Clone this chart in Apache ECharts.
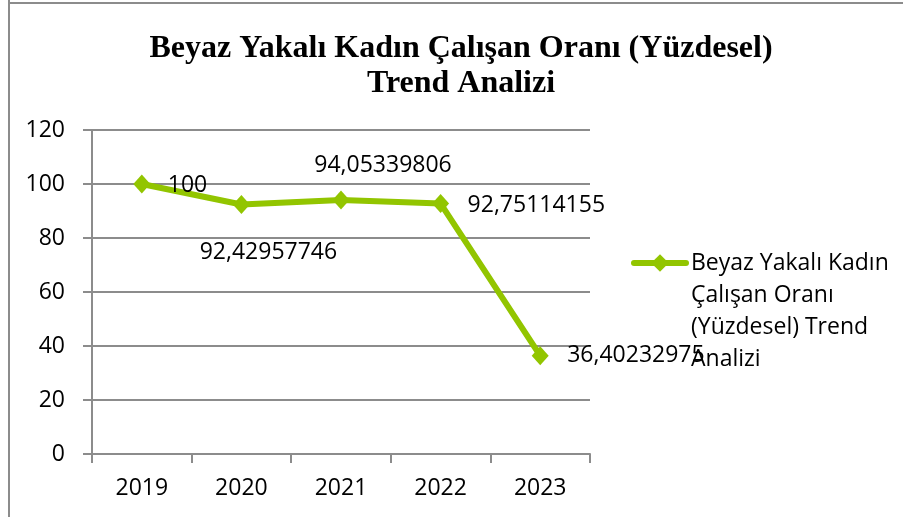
<!DOCTYPE html>
<html>
<head>
<meta charset="utf-8">
<script src="https://cdn.jsdelivr.net/npm/echarts@6/dist/echarts.min.js"></script>
<style>
  html, body { margin: 0; padding: 0; background: #ffffff; }
  #chart { width: 903px; height: 517px; }
</style>
</head>
<body>
<div id="chart"></div>
<script>
// Yearly white-collar female employee ratio, indexed to 2019 = 100
const years = ['2019', '2020', '2021', '2022', '2023'];
const ratios = [100, 92.42957746, 94.05339806, 92.75114155, 36.40232975];
const yTicks = [0, 20, 40, 60, 80, 100, 120];
const seriesName = 'Beyaz Yakalı Kadın Çalışan Oranı (Yüzdesel) Trend Analizi';
const legendLines = ['Beyaz Yakalı Kadın', 'Çalışan Oranı', '(Yüzdesel) Trend', 'Analizi'];

const GREEN = '#92c500';
const AXIS_GRAY = '#8c8c8c';
const LABEL_FONT = '"Open Sans", "Noto Sans", sans-serif';
const FS = 23;

// where each value label sits relative to its point
const labelPlacement = [
  { align: 'left',   offset: [26, 1] },
  { align: 'center', offset: [27, 48] },
  { align: 'center', offset: [42, -35] },
  { align: 'left',   offset: [27, 2] },
  { align: 'left',   offset: [27, 0] }
];

const fmt = v => String(v).replace('.', ',');

const chart = echarts.init(document.getElementById('chart'), null, { renderer: 'canvas' });

chart.setOption({
  animation: false,
  backgroundColor: '#ffffff',
  title: {
    text: 'Beyaz Yakalı Kadın Çalışan Oranı (Yüzdesel)\nTrend Analizi',
    left: 456,
    top: 26,
    textAlign: 'center',
    textStyle: {
      fontFamily: '"Liberation Serif", "Times New Roman", serif',
      fontWeight: 'bold',
      fontSize: 32,
      lineHeight: 35,
      color: '#000000'
    }
  },
  graphic: [
    { type: 'line', shape: { x1: 9, y1: 0, x2: 9, y2: 517 }, style: { stroke: AXIS_GRAY, lineWidth: 2 } },
    { type: 'line', shape: { x1: 9, y1: 3, x2: 903, y2: 3 }, style: { stroke: AXIS_GRAY, lineWidth: 2 } }
  ],
  legend: {
    orient: 'vertical',
    left: 631,
    top: 151,
    padding: 0,
    itemWidth: 52,
    itemHeight: 22,
    itemGap: 0,
    data: [seriesName],
    // three empty lines above keep the marker level with the first text line
    formatter: () => '\n\n\n' + legendLines.join('\n'),
    lineStyle: { width: 6, color: GREEN, cap: 'round' },
    itemStyle: { color: GREEN },
    textStyle: {
      fontFamily: LABEL_FONT,
      fontSize: FS,
      lineHeight: 32,
      color: '#000000'
    }
  },
  grid: { left: 92, right: 313, top: 130, bottom: 63 },
  xAxis: {
    type: 'category',
    data: years,
    boundaryGap: true,
    axisLine: { lineStyle: { color: AXIS_GRAY, width: 2 } },
    axisTick: { show: true, length: 9, lineStyle: { color: AXIS_GRAY, width: 2 } },
    axisLabel: { margin: 23, fontFamily: LABEL_FONT, fontSize: FS, color: '#000000' },
    splitLine: { show: false }
  },
  yAxis: {
    type: 'value',
    min: yTicks[0],
    max: yTicks[yTicks.length - 1],
    interval: yTicks[1] - yTicks[0],
    axisLine: { show: true, lineStyle: { color: AXIS_GRAY, width: 2 } },
    axisTick: { show: true, length: 9, lineStyle: { color: AXIS_GRAY, width: 2 } },
    axisLabel: { margin: 27, fontFamily: LABEL_FONT, fontSize: FS, color: '#000000' },
    splitLine: { show: true, lineStyle: { color: AXIS_GRAY, width: 2 } }
  },
  series: [{
    name: seriesName,
    type: 'line',
    data: ratios.map((v, i) => ({
      value: v,
      label: {
        show: true,
        position: 'inside',
        align: labelPlacement[i].align,
        offset: labelPlacement[i].offset,
        formatter: p => fmt(p.value),
        fontFamily: LABEL_FONT,
        fontSize: FS,
        color: '#000000'
      }
    })),
    symbol: 'diamond',
    symbolSize: [17, 19],
    lineStyle: { color: GREEN, width: 6 },
    itemStyle: { color: GREEN },
    z: 3
  }]
});
</script>
</body>
</html>
